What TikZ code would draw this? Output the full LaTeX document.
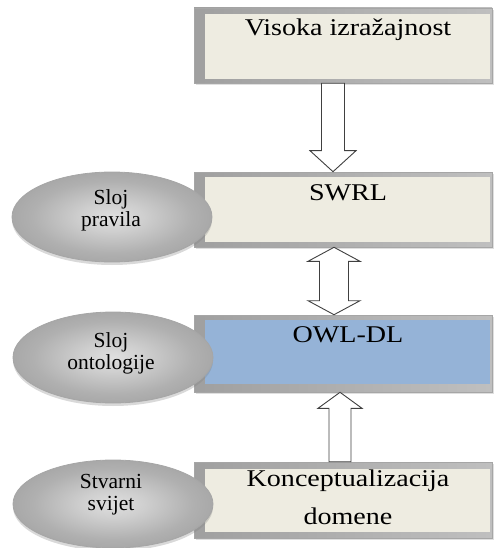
\documentclass[tikz,border=0pt]{standalone}
\usepackage{fontspec}
\setmainfont{Liberation Serif}
\newfontfamily\layerfont[FakeStretch=1.17]{Liberation Serif}
\usetikzlibrary{shapes.geometric, calc, shadows, positioning}
\definecolor{layerbeige}{RGB}{238,236,225}
\definecolor{layerblue}{RGB}{149,179,215}
\definecolor{arrowgray}{RGB}{64,64,64}
\pgfdeclareradialshading{ovalshade}{\pgfpoint{0bp}{0bp}}{%
    color(0bp)=(gray!25); color(8bp)=(gray!38); color(20bp)=(gray!62);
    color(35bp)=(gray!80); color(50bp)=(gray!88)}

\tikzset{
    layerframe/.style={rectangle, inner sep=0pt, minimum width=298pt,
        draw=gray!70, line width=0.6pt, left color=gray!75, right color=gray!50,
        drop shadow={shadow xshift=1.5pt, shadow yshift=-2pt, opacity=0.25}},
    layertext/.style={font=\layerfont\fontsize{24}{38}\selectfont,
        align=center, anchor=base, inner sep=0pt},
    layeroval/.style={ellipse, inner sep=0pt, minimum width=200pt, minimum height=90pt,
        draw=gray!70, line width=0.8pt, shading=ovalshade,
        drop shadow={shadow xshift=0pt, shadow yshift=-3pt, opacity=0.3}},
    ovaltext/.style={font=\fontsize{21.5}{22}\selectfont,
        align=center, anchor=base, inner sep=0pt},
    blockarrow/.style={draw=arrowgray, fill=white, line width=0.9pt, line join=miter},
}

\begin{document}
\begin{tikzpicture}[x=1pt, y=-1pt]
    \useasboundingbox (0,0) rectangle (493,548);

    % Visoka izrazajnost
    \node[layerframe, minimum height=75pt] (visoka) at (343,45.5) {};
    \fill[layerbeige] ($(visoka.north west)+(11,6)$) rectangle ($(visoka.south east)+(-2,-4)$);
    \node[layertext] (visoka-text) at ($(visoka.north)+(5,28)$) {Visoka izražajnost};

    % SWRL
    \node[layerframe, minimum height=75pt] (swrl) at (343,209.5) {};
    \fill[layerbeige] ($(swrl.north west)+(11,5)$) rectangle ($(swrl.south east)+(-2,-5)$);
    \node[layertext] (swrl-text) at ($(swrl.north)+(5,29)$) {SWRL};

    % OWL-DL
    \node[layerframe, minimum height=77pt] (owl) at (343,353.5) {};
    \fill[layerblue] ($(owl.north west)+(11,5)$) rectangle ($(owl.south east)+(-2,-8)$);
    \node[layertext] (owl-text) at ($(owl.north)+(5,28)$) {OWL-DL};

    % Konceptualizacija domene (base = last line)
    \node[layerframe, minimum height=76pt] (konc) at (343,500) {};
    \fill[layerbeige] ($(konc.north west)+(11,7)$) rectangle ($(konc.south east)+(-2,-6)$);
    \node[layertext] (konc-text) at ($(konc.north)+(5,63)$) {Konceptualizacija\\domene};

    % arrows between the layers
    \draw[blockarrow] let \p1=($(visoka.south)+(-10,0)$), \p2=($(swrl.north)+(-10,0)$) in
        (\x1-11.5pt,\y1) -- (\x1+11.5pt,\y1) -- (\x1+11.5pt,\y2+21pt) -- (\x1+23pt,\y2+21pt)
        -- (\x1,\y2) -- (\x1-23pt,\y2+21pt) -- (\x1-11.5pt,\y2+21pt) -- cycle;
    \draw[blockarrow] let \p1=($(swrl.south)+(-9,0)$), \p2=($(owl.north)+(-9,0)$) in
        (\x1,\y1) -- (\x1+26pt,\y1-14pt) -- (\x1+14.5pt,\y1-14pt) -- (\x1+14.5pt,\y2+14pt)
        -- (\x1+26pt,\y2+14pt) -- (\x1,\y2) -- (\x1-26pt,\y2+14pt) -- (\x1-14.5pt,\y2+14pt)
        -- (\x1-14.5pt,\y1-14pt) -- (\x1-26pt,\y1-14pt) -- cycle;
    \draw[blockarrow] let \p1=($(owl.south)+(-3,0)$), \p2=($(konc.north)+(-3,0)$) in
        (\x1,\y1) -- (\x1+22pt,\y1-16pt) -- (\x1+11pt,\y1-16pt) -- (\x1+11pt,\y2)
        -- (\x1-11pt,\y2) -- (\x1-11pt,\y1-16pt) -- (\x1-22pt,\y1-16pt) -- cycle;

    % Ovals on the left (base = last line)
    \node[layeroval] (pravila) at (112,217) {};
    \node[ovaltext] (pravila-text) at (111,226) {Sloj\\pravila};
    \node[layeroval, minimum height=91pt] (ontologija) at (113,357.5) {};
    \node[ovaltext] (ontologija-text) at (111,369) {Sloj\\ontologije};
    \node[layeroval, minimum height=88pt] (svijet) at (113,504) {};
    \node[ovaltext] (svijet-text) at (111,510) {Stvarni\\svijet};
\end{tikzpicture}
\end{document}
